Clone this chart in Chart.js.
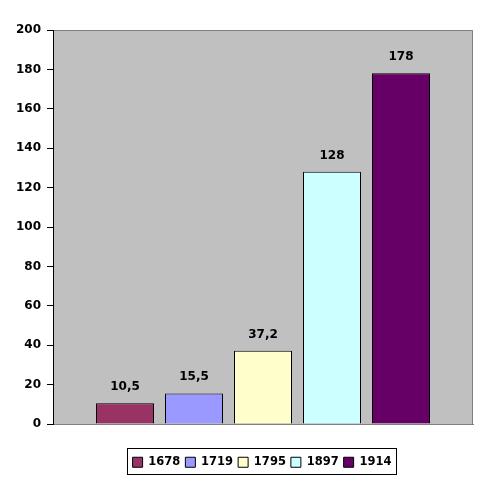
<!DOCTYPE html>
<html><head><meta charset="utf-8">
<script src="https://cdn.jsdelivr.net/npm/chart.js@4"></script>
<style>html,body{margin:0;padding:0;background:#fff}#wrap{width:488px;height:483px}</style>
</head><body><div id="wrap"><canvas id="c" width="488" height="483"></canvas></div>
<script>
const years = ['1678','1719','1795','1897','1914'];
const values = [10.5, 15.5, 37.2, 128, 178];
const labelsText = ['10,5','15,5','37,2','128','178'];
const colors = ['#993366','#9999FF','#FFFFCC','#CCFFFF','#660066'];
const yTicks = [0,20,40,60,80,100,120,140,160,180,200];
const FONT = "'DejaVu Sans', Verdana, sans-serif";
const PLOT_BOTTOM = 424;
const PAD_BOTTOM = 5;
const LEGEND_CENTER_X = 262;

const bgPlugin = {
  id:'bg',
  afterLayout(chart){
    const lg = chart.legend;
    if (lg) {
      const d = LEGEND_CENTER_X - (lg.left + lg.right)/2;
      lg.left += d; lg.right += d;
    }
  },
  beforeDraw(chart){
    const {ctx, chartArea:a} = chart;
    ctx.save();
    ctx.fillStyle = '#C0C0C0';
    ctx.fillRect(a.left, a.top, a.right-a.left, a.bottom-a.top);
    ctx.strokeStyle = '#808080';
    ctx.lineWidth = 1;
    ctx.beginPath();
    ctx.moveTo(a.left, a.top+0.5); ctx.lineTo(a.right-0.5, a.top+0.5); ctx.lineTo(a.right-0.5, a.bottom);
    ctx.stroke();
    ctx.restore();
  },
  afterDraw(chart){
    const {ctx} = chart;
    const lg = chart.legend;
    ctx.save();
    ctx.font = "bold 12px " + FONT;
    ctx.fillStyle = '#000';
    ctx.textAlign = 'center';
    ctx.textBaseline = 'alphabetic';
    chart.data.datasets.forEach((ds,i)=>{
      const el = chart.getDatasetMeta(i).data[0];
      ctx.fillText(labelsText[i], el.x, el.y - 13);
    });
    if (lg && lg.legendHitBoxes && lg.legendHitBoxes.length) {
      const hb = lg.legendHitBoxes;
      let l = Infinity, r = -Infinity, t = Infinity, b = -Infinity;
      hb.forEach(h=>{ l=Math.min(l,h.left); r=Math.max(r,h.left+h.width); t=Math.min(t,h.top); b=Math.max(b,h.top+h.height); });
      const cy = (t+b)/2;
      const x0 = Math.round(l-6)+0.5, x1 = Math.round(r+5)+0.5;
      const y0 = Math.round(cy-14)+0.5, y1 = Math.round(cy+12)+0.5;
      ctx.strokeStyle = '#000';
      ctx.lineWidth = 1;
      ctx.strokeRect(x0, y0, x1-x0, y1-y0);
    }
    ctx.restore();
  }
};

new Chart(document.getElementById('c'), {
  type:'bar',
  data:{
    labels:[''],
    datasets: years.map((y,i)=>({
      label:y, data:[values[i]], backgroundColor:colors[i], borderColor:'#000', borderWidth:1,
      barPercentage:58/69, categoryPercentage:345/420
    }))
  },
  options:{
    responsive:false, animation:false,
    layout:{padding:{left:0,right:15,top:30,bottom:PAD_BOTTOM}},
    plugins:{
      tooltip:{enabled:false},
      legend:{
        position:'bottom',
        labels:{font:{family:FONT,size:11.5,weight:'bold'},color:'#000',boxWidth:10,boxHeight:10,padding:5,
          generateLabels(chart){
            return chart.data.datasets.map((ds,i)=>({text:ds.label,fillStyle:ds.backgroundColor,strokeStyle:'#000',lineWidth:1,datasetIndex:i,fontColor:'#000'}));
          }
        }
      }
    },
    scales:{
      x:{
        grid:{display:false},
        border:{color:'#808080'},
        ticks:{display:false},
        afterFit(s){
          const L = s.chart.legend ? s.chart.legend.height : 0;
          s.height = Math.max(0, 483 - PAD_BOTTOM - L - PLOT_BOTTOM);
        }
      },
      y:{
        min:0,max:200,
        afterBuildTicks(s){ s.ticks = yTicks.map(v=>({value:v})); },
        afterFit(s){ s.width = 53; },
        grid:{drawOnChartArea:false, drawTicks:true, tickLength:6, color:'#000'},
        border:{color:'#000'},
        ticks:{font:{family:FONT,size:12,weight:'bold'},color:'#000',padding:6}
      }
    }
  },
  plugins:[bgPlugin]
});
</script></body></html>
